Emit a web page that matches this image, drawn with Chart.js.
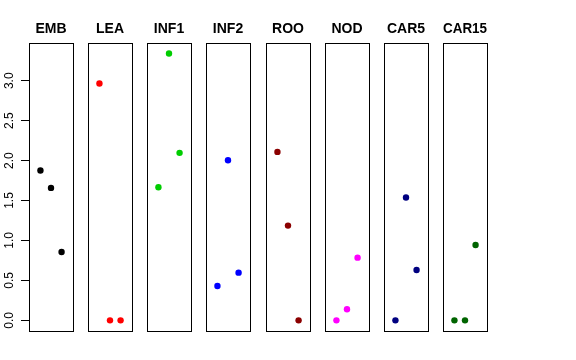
<!DOCTYPE html>
<html>
<head>
<meta charset="utf-8">
<script src="https://cdn.jsdelivr.net/npm/chart.js@4/dist/chart.umd.min.js"></script>
<style>
  html, body { margin: 0; padding: 0; background: #fff; width: 576px; height: 360px; overflow: hidden; }
  canvas { position: absolute; top: 0; }
</style>
</head>
<body>
<script>
// one panel per tissue, three points each
const tissues = ['EMB', 'LEA', 'INF1', 'INF2', 'ROO', 'NOD', 'CAR5', 'CAR15'];
const colors  = ['#000000', '#ff0000', '#00cd00', '#0000ff', '#8b0000', '#ff00ff', '#000080', '#006400'];
const xPos = [1, 2, 3];
const EMB   = [1.875, 1.658, 0.856];
const LEA   = [2.965, 0.0, 0.0];
const INF1  = [1.667, 3.341, 2.097];
const INF2  = [0.430, 2.005, 0.597];
const ROO   = [2.109, 1.186, 0.0];
const NOD   = [0.0, 0.138, 0.785];
const CAR5  = [0.0, 1.537, 0.630];
const CAR15 = [0.0, 0.0, 0.944];
const series = [EMB, LEA, INF1, INF2, ROO, NOD, CAR5, CAR15];
const yTicks = [0, 0.5, 1, 1.5, 2, 2.5, 3];

const FONT = 'Liberation Sans, Arial, Helvetica, sans-serif';

// R-style 4% padding on the y range
const all = series.flat();
const lo = Math.min(...all), hi = Math.max(...all);
const ext = (hi - lo) * 0.04;

const boxPlugin = {
  id: 'box',
  afterDraw(chart) {
    const a = chart.chartArea, ctx = chart.ctx;
    ctx.save();
    ctx.strokeStyle = '#000';
    ctx.lineWidth = 1;
    ctx.strokeRect(Math.round(a.left) + 0.5, Math.round(a.top) + 0.5,
                   Math.round(a.right - a.left), Math.round(a.bottom - a.top));
    ctx.restore();
  }
};

const firstLeft = 29, step = 59.15, boxW = 44, side = 8;

series.forEach((vals, i) => {
  const cv = document.createElement('canvas');
  const first = i === 0;
  const left = first ? 0 : Math.round(firstLeft + i * step) - side;
  const w = first ? firstLeft + boxW + side : boxW + 2 * side;
  cv.width = w; cv.height = 336;
  cv.style.left = left + 'px';
  document.body.appendChild(cv);

  const yScale = {
    min: lo - ext,
    max: hi + ext,
    display: first,
    afterBuildTicks(s) { s.ticks = yTicks.map(v => ({ value: v })); },
    border: { display: false },
    grid: { drawOnChartArea: false, drawTicks: true, tickLength: 8, color: '#000' },
    ticks: {
      minRotation: 90, maxRotation: 90,
      crossAlign: 'center',
      padding: 3,
      color: '#000',
      font: { family: FONT, size: 12 },
      callback: v => v.toFixed(1)
    }
  };
  if (first) {
    yScale.afterFit = s => {
      s.width = firstLeft;
      s.paddingTop = 0;
      s.paddingBottom = 0;
    };
  }

  new Chart(cv, {
    type: 'scatter',
    data: {
      datasets: [{
        data: xPos.map((x, k) => ({ x, y: vals[k] })),
        backgroundColor: colors[i],
        borderWidth: 0,
        pointRadius: 3.2
      }]
    },
    options: {
      responsive: false,
      animation: false,
      events: [],
      layout: {
        autoPadding: false,
        padding: { left: first ? 0 : side, right: side, top: 0, bottom: 5 }
      },
      plugins: {
        legend: { display: false },
        tooltip: { enabled: false },
        title: {
          display: true,
          fullSize: !first,
          text: tissues[i],
          color: '#000',
          font: { family: FONT, size: 14, weight: 'bold' },
          padding: { top: 21, bottom: 5 }
        }
      },
      scales: {
        x: { type: 'linear', min: -0.08, max: 4.08, display: false },
        y: yScale
      }
    },
    plugins: [boxPlugin]
  });
});
</script>
</body>
</html>
